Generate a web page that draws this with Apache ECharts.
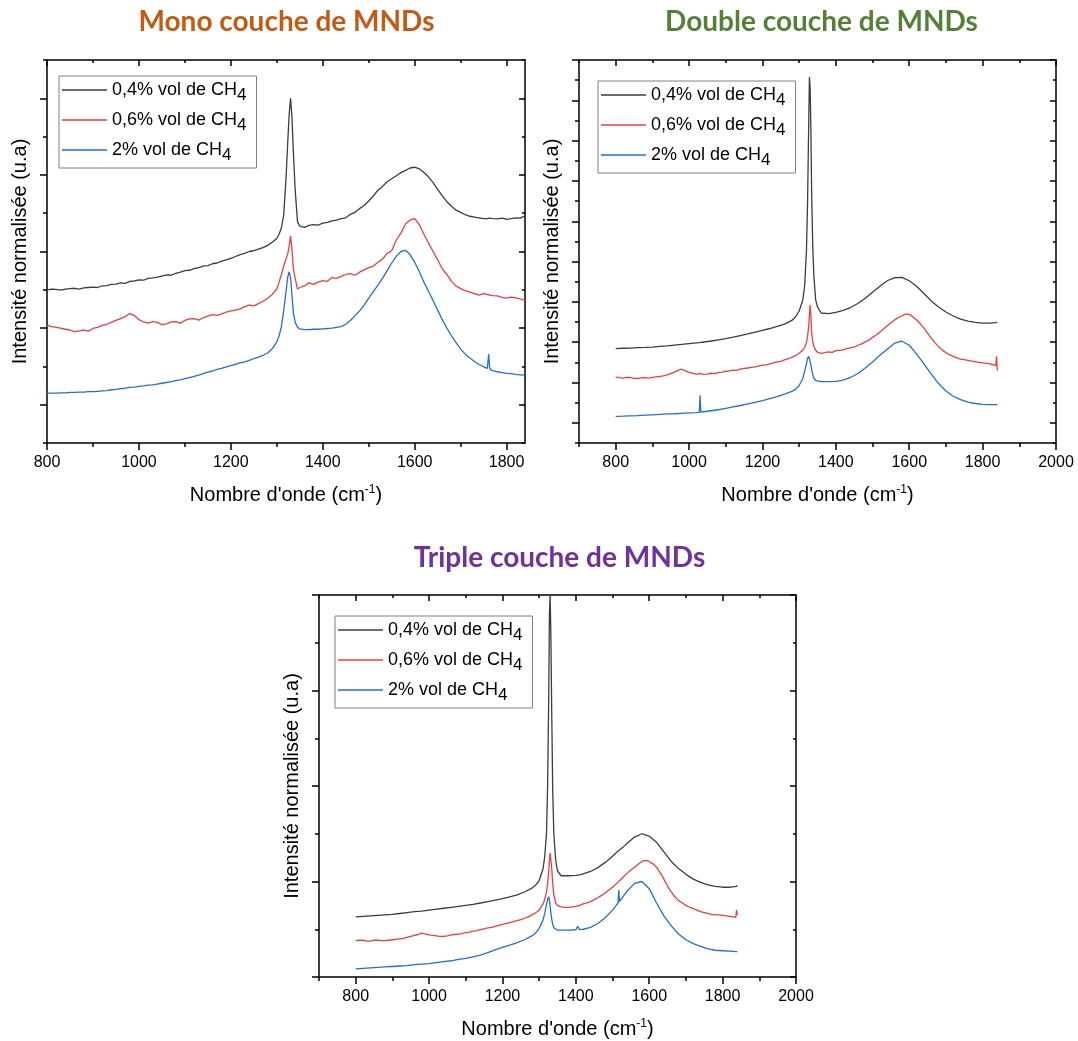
<!DOCTYPE html>
<html><head><meta charset="utf-8">
<script src="https://cdn.jsdelivr.net/npm/echarts@6/dist/echarts.min.js"></script>
<style>html,body{margin:0;padding:0;background:#fff}#c{width:1078px;height:1041px}</style>
</head><body><div id="c"></div>
<script>
// ---------- text ----------
const seriesNames = ['0,4% vol de CH4', '0,6% vol de CH4', '2% vol de CH4'];
const panelTitles = ['Mono couche de MNDs', 'Double couche de MNDs', 'Triple couche de MNDs'];
const yName = 'Intensité normalisée (u.a)';
const xName = "Nombre d'onde (cm{sup|-1})";

// ---------- tick values ----------
const xMajor1 = [800, 1000, 1200, 1400, 1600, 1800];
const xMinor1 = [900, 1100, 1300, 1500, 1700];
const xMajor23 = [800, 1000, 1200, 1400, 1600, 1800, 2000];
const xMinor23 = [700, 900, 1100, 1300, 1500, 1700, 1900];
const yMajor1 = [1, 3, 5, 7, 9];
const yMinor1 = [0, 2, 4, 6, 8, 10];
const yMajor2 = [1, 3, 5, 7, 9, 11, 13, 15, 17, 19];
const yMinor2 = [0, 2, 4, 6, 8, 10, 12, 14, 16, 18];
const yMajor3 = [0, 2, 4, 6, 8];
const yMinor3 = [1, 3, 5, 7];

// ---------- Mono couche ----------
const wn1 = [800,810,820,830,840,850,860,870,880,890,
  900,910,920,930,940,950,960,970,980,990,
  1000,1010,1020,1030,1040,1050,1060,1070,1080,1090,
  1100,1110,1120,1130,1140,1150,1160,1170,1180,1190,
  1200,1210,1220,1230,1240,1250,1260,1270,1280,1290,
  1300,1305,1310,1315,1320,1324,1327,1330,1333,1336,
  1340,1345,1350,1360,1370,1380,1390,1400,1410,1420,
  1430,1440,1450,1460,1470,1480,1490,1500,1510,1520,
  1530,1540,1550,1560,1570,1580,1590,1600,1610,1620,
  1630,1640,1650,1660,1670,1680,1690,1700,1710,1720,
  1730,1740,1750,1758,1761,1763,1766,1770,1780,1790,
  1800,1810,1820,1830,1840];
const mono04 = [4.00,4.02,4.01,3.99,4.02,4.03,4.04,4.02,4.05,4.06,
  4.07,4.06,4.10,4.11,4.14,4.15,4.18,4.17,4.22,4.23,
  4.26,4.25,4.30,4.31,4.33,4.36,4.39,4.38,4.43,4.46,
  4.50,4.51,4.55,4.58,4.62,4.63,4.68,4.70,4.75,4.78,
  4.82,4.87,4.92,4.95,5.00,5.02,5.06,5.10,5.16,5.24,
  5.34,5.45,5.62,5.95,6.90,7.90,8.60,9.00,8.50,7.60,
  6.60,5.78,5.66,5.63,5.68,5.70,5.69,5.74,5.76,5.80,
  5.82,5.86,5.88,5.97,6.02,6.12,6.20,6.32,6.45,6.60,
  6.70,6.82,6.90,6.98,7.06,7.12,7.18,7.20,7.16,7.06,
  6.95,6.80,6.62,6.45,6.30,6.18,6.08,6.02,5.96,5.92,
  5.90,5.88,5.86,5.86,5.84,5.87,5.85,5.86,5.85,5.87,
  5.84,5.86,5.88,5.87,5.93];
const mono06 = [3.08,3.04,3.02,3.00,2.97,2.95,2.90,2.93,2.95,2.92,
  2.99,3.02,3.07,3.10,3.15,3.20,3.25,3.30,3.38,3.33,
  3.22,3.16,3.13,3.17,3.15,3.09,3.11,3.16,3.17,3.13,
  3.20,3.24,3.25,3.21,3.27,3.31,3.35,3.33,3.37,3.42,
  3.45,3.47,3.50,3.56,3.60,3.58,3.64,3.70,3.78,3.88,
  4.02,4.20,4.40,4.62,4.80,4.95,5.15,5.40,5.05,4.55,
  4.30,4.02,4.06,4.10,4.18,4.14,4.20,4.24,4.22,4.32,
  4.30,4.35,4.40,4.42,4.38,4.46,4.52,4.58,4.62,4.72,
  4.80,4.95,5.02,5.30,5.48,5.72,5.82,5.86,5.70,5.45,
  5.22,5.00,4.78,4.55,4.40,4.22,4.10,4.03,3.98,3.94,
  3.90,3.86,3.90,3.88,3.83,3.86,3.82,3.85,3.84,3.80,
  3.78,3.81,3.79,3.76,3.72];
const mono2 = [1.30,1.30,1.30,1.31,1.31,1.32,1.32,1.33,1.33,1.34,
  1.34,1.35,1.36,1.37,1.39,1.40,1.42,1.43,1.45,1.46,
  1.48,1.49,1.51,1.52,1.54,1.56,1.58,1.60,1.63,1.65,
  1.68,1.71,1.74,1.77,1.81,1.85,1.88,1.92,1.95,1.99,
  2.02,2.05,2.09,2.12,2.16,2.20,2.24,2.29,2.35,2.46,
  2.64,2.80,3.04,3.45,3.95,4.35,4.47,4.30,3.85,3.40,
  3.15,3.02,2.98,2.96,2.96,2.97,2.97,2.98,2.99,3.00,
  3.02,3.04,3.10,3.20,3.32,3.45,3.60,3.78,3.95,4.12,
  4.30,4.50,4.70,4.88,5.00,5.03,4.92,4.72,4.48,4.20,
  3.96,3.72,3.47,3.22,3.00,2.80,2.62,2.45,2.32,2.22,
  2.13,2.05,1.99,1.95,2.32,1.96,1.90,1.89,1.86,1.84,
  1.82,1.81,1.79,1.78,1.77];

// ---------- shared wavenumbers of the noisy 0,6% spectra (double & triple) ----------
const wnRed = [800,810,820,830,840,850,860,870,880,890,
  900,910,920,930,940,950,960,970,980,990,
  1000,1010,1020,1030,1040,1050,1060,1070,1080,1090,
  1100,1110,1120,1130,1140,1150,1160,1170,1180,1190,
  1200,1210,1220,1230,1240,1250,1260,1270,1280,1290,
  1300,1310,1315,1320,1323,1326,1328,1330,1332,1334,
  1337,1340,1345,1350,1360,1370,1380,1390,1400,1410,
  1420,1430,1440,1450,1460,1470,1480,1490,1500,1510,
  1520,1530,1540,1550,1560,1570,1580,1590,1600,1610,
  1620,1630,1640,1650,1660,1670,1680,1690,1700,1710,
  1720,1730,1740,1750,1760,1770,1780,1790,1800,1810,
  1820,1830,1836,1838,1840];

// ---------- Double couche ----------
const wn2 = [800,820,840,860,880,900,920,940,960,980,
  1000,1020,1028,1030,1032,1040,1060,1080,1100,1120,
  1140,1160,1180,1200,1220,1240,1260,1280,1290,1300,
  1310,1315,1320,1323,1326,1328,1330,1332,1334,1337,
  1340,1345,1350,1360,1380,1400,1420,1440,1460,1480,
  1500,1520,1540,1560,1580,1600,1620,1640,1660,1680,
  1700,1720,1740,1760,1780,1800,1820,1836,1838,1840];
const double04 = [4.68,4.70,4.71,4.73,4.74,4.76,4.79,4.82,4.86,4.89,
  4.93,4.97,4.98,4.99,4.99,5.01,5.06,5.12,5.18,5.25,
  5.33,5.41,5.50,5.59,5.68,5.78,5.90,6.08,6.25,6.55,
  7.10,7.80,9.60,12.0,15.8,18.15,17.6,15.5,12.5,9.8,
  8.30,7.10,6.75,6.45,6.42,6.48,6.58,6.72,6.92,7.18,
  7.48,7.78,8.05,8.20,8.22,8.05,7.78,7.42,7.05,6.75,
  6.50,6.30,6.15,6.05,5.98,5.95,5.95,5.97,5.98,6.00];
const double06 = [3.27,3.24,3.22,3.26,3.25,3.21,3.20,3.23,3.24,3.22,
  3.26,3.28,3.30,3.33,3.38,3.44,3.52,3.60,3.66,3.58,
  3.50,3.45,3.42,3.44,3.40,3.42,3.46,3.44,3.50,3.52,
  3.56,3.58,3.62,3.60,3.66,3.70,3.72,3.75,3.78,3.83,
  3.86,3.88,3.92,3.97,4.02,4.05,4.12,4.18,4.25,4.33,
  4.45,4.60,4.75,5.00,5.30,5.80,6.40,6.85,6.30,5.50,
  5.00,4.80,4.60,4.50,4.45,4.48,4.52,4.50,4.58,4.60,
  4.62,4.68,4.72,4.76,4.85,4.92,5.02,5.10,5.24,5.36,
  5.50,5.66,5.82,5.96,6.10,6.22,6.30,6.40,6.38,6.26,
  6.10,5.92,5.70,5.45,5.20,4.98,4.78,4.62,4.48,4.38,
  4.30,4.22,4.16,4.14,4.10,4.06,4.04,4.00,3.98,3.95,
  3.92,3.88,3.85,4.30,3.60];
const double2 = [1.32,1.33,1.35,1.36,1.38,1.40,1.42,1.44,1.45,1.47,
  1.49,1.51,1.52,2.37,1.53,1.55,1.60,1.65,1.72,1.79,
  1.86,1.94,2.02,2.10,2.20,2.30,2.42,2.56,2.66,2.85,
  3.20,3.55,3.95,4.20,4.30,4.22,4.05,3.85,3.65,3.40,
  3.22,3.10,3.06,3.04,3.04,3.06,3.12,3.25,3.45,3.72,
  4.02,4.35,4.65,4.95,5.05,4.85,4.42,3.92,3.42,2.95,
  2.58,2.32,2.15,2.03,1.96,1.92,1.90,1.90,1.91,1.92];

// ---------- Triple couche ----------
const wn3 = [800,820,840,860,880,900,920,940,960,980,
  1000,1020,1040,1060,1080,1100,1120,1140,1160,1180,
  1200,1220,1240,1260,1280,1290,1300,1310,1315,1320,
  1323,1326,1328,1330,1332,1334,1337,1340,1345,1350,
  1360,1380,1400,1405,1410,1420,1440,1460,1480,1500,
  1510,1515,1517,1519,1530,1540,1560,1580,1600,1620,
  1640,1660,1680,1700,1720,1740,1760,1780,1800,1820,
  1838,1840];
const triple04 = [1.26,1.27,1.28,1.29,1.30,1.31,1.33,1.35,1.37,1.38,
  1.40,1.42,1.44,1.46,1.48,1.50,1.52,1.55,1.58,1.61,
  1.64,1.68,1.72,1.78,1.86,1.92,2.02,2.25,2.50,3.00,
  4.00,5.80,7.60,8.00,7.10,5.70,3.90,3.00,2.45,2.22,
  2.12,2.12,2.13,2.14,2.14,2.16,2.21,2.29,2.40,2.53,
  2.60,2.63,2.65,2.66,2.73,2.80,2.93,3.00,2.95,2.82,
  2.62,2.42,2.27,2.15,2.05,1.98,1.93,1.90,1.88,1.88,
  1.90,1.92];
const triple06 = [0.76,0.77,0.77,0.75,0.75,0.77,0.77,0.76,0.76,0.77,
  0.78,0.79,0.80,0.81,0.83,0.85,0.87,0.89,0.92,0.90,
  0.88,0.87,0.86,0.85,0.85,0.86,0.88,0.89,0.90,0.91,
  0.93,0.94,0.96,0.97,0.99,1.01,1.03,1.04,1.06,1.08,
  1.10,1.12,1.14,1.16,1.18,1.20,1.23,1.26,1.30,1.34,
  1.40,1.52,1.62,1.78,1.95,2.20,2.45,2.60,2.62,2.30,
  1.95,1.72,1.55,1.50,1.47,1.46,1.46,1.47,1.48,1.50,
  1.53,1.55,1.58,1.62,1.66,1.71,1.76,1.82,1.88,1.95,
  2.02,2.10,2.17,2.24,2.30,2.36,2.42,2.44,2.42,2.37,
  2.30,2.18,2.05,1.90,1.78,1.68,1.60,1.55,1.50,1.46,
  1.43,1.40,1.37,1.35,1.33,1.31,1.30,1.30,1.29,1.28,
  1.27,1.26,1.25,1.40,1.30];
const triple2 = [0.17,0.18,0.19,0.20,0.21,0.22,0.23,0.24,0.26,0.27,
  0.28,0.30,0.32,0.34,0.37,0.39,0.42,0.46,0.51,0.57,
  0.62,0.67,0.72,0.78,0.86,0.92,1.02,1.18,1.32,1.52,
  1.62,1.68,1.62,1.48,1.34,1.22,1.10,1.03,0.99,0.98,
  0.98,0.98,0.99,1.06,0.99,1.00,1.04,1.12,1.24,1.40,
  1.50,1.55,1.82,1.58,1.70,1.80,1.96,2.00,1.85,1.55,
  1.28,1.07,0.90,0.78,0.70,0.64,0.59,0.56,0.55,0.54,
  0.53,0.53];

// ---------- styling / layout ----------
const FONT = '"Liberation Sans", Arial, sans-serif';
const colors = ['#3d3d3d', '#ee3d3d', '#1f6fdc'];
const titleColors = ['#c55a11', '#548235', '#7030a0'];

const panels = [
  { grid: {left: 47, top: 60, width: 478, height: 383}, xr: [800, 1840], yr: [0, 10],
    xMaj: xMajor1, xMin: xMinor1, yMaj: yMajor1, yMin: yMinor1,
    xs: [wn1, wn1, wn1], vals: [mono04, mono06, mono2], title: [286.5, 22], legend: [59, 76] },
  { grid: {left: 579, top: 60, width: 477, height: 383}, xr: [700, 2000], yr: [0, 19],
    xMaj: xMajor23, xMin: xMinor23, yMaj: yMajor2, yMin: yMinor2,
    xs: [wn2, wnRed, wn2], vals: [double04, double06, double2], title: [821.5, 22], legend: [598, 81] },
  { grid: {left: 319, top: 595, width: 477, height: 384}, xr: [700, 2000], yr: [0, 8],
    xMaj: xMajor23, xMin: xMinor23, yMaj: yMajor3, yMin: yMinor3,
    xs: [wn3, wnRed, wn3], vals: [triple04, triple06, triple2], title: [559.5, 558], legend: [335, 616] }
];

const grids = [], xAxes = [], yAxes = [], series = [], legends = [], graphics = [];
const black = {color: '#000', width: 1.5};

panels.forEach((p, pi) => {
  grids.push(Object.assign({containLabel: false}, p.grid));
  const baseX = {gridIndex: pi, type: 'value', min: p.xr[0], max: p.xr[1], splitLine: {show: false}};
  const baseY = {gridIndex: pi, type: 'value', min: p.yr[0], max: p.yr[1], splitLine: {show: false}};
  xAxes.push(Object.assign({}, baseX, {
    position: 'bottom',
    axisLine: {show: true, onZero: false, lineStyle: black},
    axisTick: {show: true, inside: false, length: 7, customValues: p.xMaj, lineStyle: black},
    axisLabel: {show: true, customValues: p.xMaj, margin: 12, fontSize: 16, color: '#000', fontFamily: FONT,
      formatter: v => String(v)},
    name: xName, nameLocation: 'middle', nameGap: 41,
    nameTextStyle: {fontSize: 20, color: '#000', fontFamily: FONT, lineHeight: 22,
      rich: {sup: {fontSize: 12, lineHeight: 10, verticalAlign: 'top', color: '#000', fontFamily: FONT}}}
  }));
  xAxes.push(Object.assign({}, baseX, {
    position: 'bottom',
    axisLine: {show: false, onZero: false},
    axisTick: {show: true, inside: false, length: 4, customValues: p.xMin, lineStyle: black},
    axisLabel: {show: false}
  }));
  xAxes.push(Object.assign({}, baseX, {
    position: 'top',
    axisLine: {show: true, onZero: false, lineStyle: black},
    axisTick: {show: true, inside: true, length: 6, customValues: p.xMaj, lineStyle: black},
    axisLabel: {show: false}
  }));
  xAxes.push(Object.assign({}, baseX, {
    position: 'top',
    axisLine: {show: false, onZero: false},
    axisTick: {show: true, inside: true, length: 3, customValues: p.xMin, lineStyle: black},
    axisLabel: {show: false}
  }));
  yAxes.push(Object.assign({}, baseY, {
    position: 'left',
    axisLine: {show: true, onZero: false, lineStyle: black},
    axisTick: {show: true, inside: false, length: 7, customValues: p.yMaj, lineStyle: black},
    axisLabel: {show: false},
    name: yName, nameLocation: 'middle', nameGap: 17,
    nameTextStyle: {fontSize: 20, color: '#000', fontFamily: FONT}
  }));
  yAxes.push(Object.assign({}, baseY, {
    position: 'left',
    axisLine: {show: false, onZero: false},
    axisTick: {show: true, inside: false, length: 4, customValues: p.yMin, lineStyle: black},
    axisLabel: {show: false}
  }));
  yAxes.push(Object.assign({}, baseY, {
    position: 'right',
    axisLine: {show: true, onZero: false, lineStyle: black},
    axisTick: {show: true, inside: true, length: 6, customValues: p.yMaj, lineStyle: black},
    axisLabel: {show: false}
  }));
  yAxes.push(Object.assign({}, baseY, {
    position: 'right',
    axisLine: {show: false, onZero: false},
    axisTick: {show: true, inside: true, length: 3, customValues: p.yMin, lineStyle: black},
    axisLabel: {show: false}
  }));

  p.vals.forEach((v, si) => {
    const xs = p.xs[si];
    series.push({
      type: 'line', name: seriesNames[si], xAxisIndex: pi * 4, yAxisIndex: pi * 4,
      data: xs.map((x, i) => [x, v[i]]),
      symbol: 'none', showSymbol: false, silent: true, clip: true,
      lineStyle: {color: colors[si], width: 1.3}, itemStyle: {color: colors[si]},
      z: 3 - si
    });
  });

  legends.push({
    left: p.legend[0], top: p.legend[1], orient: 'vertical',
    data: seriesNames, selectedMode: false,
    icon: 'rect', itemWidth: 45, itemHeight: 1.6, itemGap: 6,
    padding: [4, 10, 4, 3],
    borderColor: '#808080', borderWidth: 1, backgroundColor: '#fff',
    formatter: n => n.replace(/CH4$/, 'CH{s|4}'),
    textStyle: {fontSize: 18, color: '#000', fontFamily: FONT, lineHeight: 20,
      rich: {s: {fontSize: 17, lineHeight: 20, verticalAlign: 'top', padding: [7, 0, 0, 0],
        color: '#000', fontFamily: FONT}}}
  });

  graphics.push({
    type: 'text', x: p.title[0], y: p.title[1],
    style: {text: panelTitles[pi], fill: titleColors[pi], font: 'bold 28px Lato, "Open Sans", sans-serif',
      align: 'center', verticalAlign: 'middle'}
  });
});

const chart = echarts.init(document.getElementById('c'), null, {renderer: 'canvas'});
chart.setOption({
  backgroundColor: '#fff',
  animation: false,
  grid: grids,
  xAxis: xAxes,
  yAxis: yAxes,
  legend: legends,
  graphic: {elements: graphics},
  series: series
});
</script>
</body></html>
